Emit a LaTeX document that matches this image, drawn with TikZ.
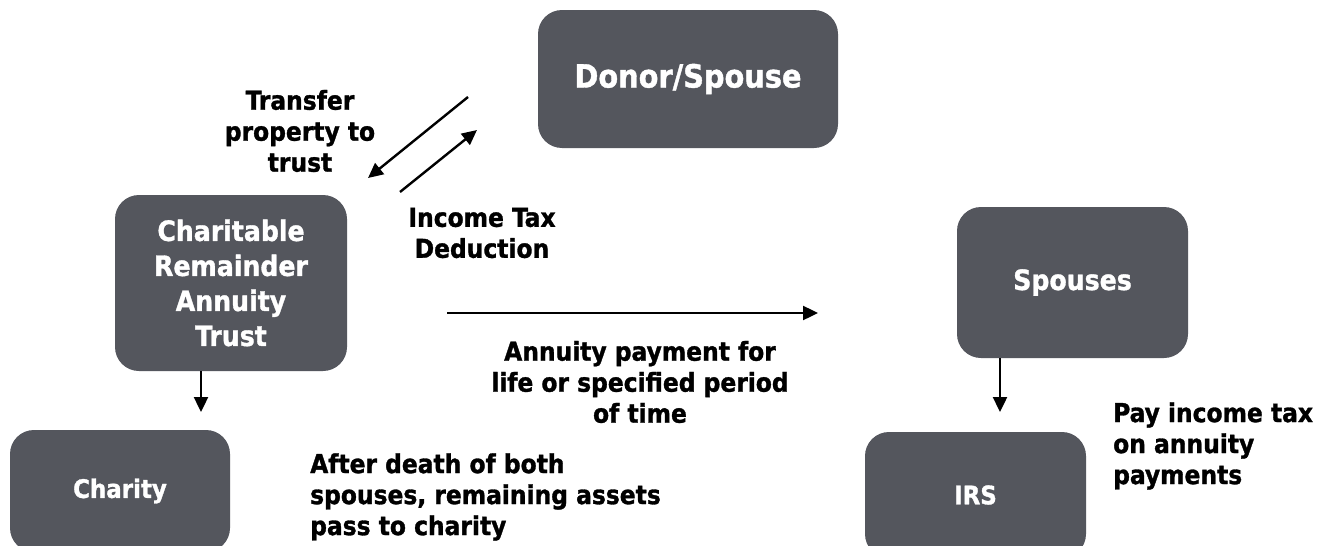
\documentclass[tikz,border=0pt]{standalone}
\usepackage{fontspec}
\setmainfont{DejaVu Sans Condensed}[BoldFeatures={FakeBold=1.2}]
\usetikzlibrary{arrows.meta}
\definecolor{boxgray}{RGB}{84,86,93}
\begin{document}
\begin{tikzpicture}[x=1pt,y=-1pt,
  box/.style={fill=boxgray, rounded corners=24pt, text=white, align=center, inner sep=0pt},
  lbl/.style={align=center, inner sep=0pt, font=\bfseries\fontsize{26}{31}\selectfont},
  arr/.style={line width=2.4pt, -{Triangle[length=15pt,width=14pt]}}]
\useasboundingbox (0,0) rectangle (1328,546);
\clip (0,0) rectangle (1328,546);
\fill[white] (0,0) rectangle (1328,546);
% boxes
\node[box, minimum width=300pt, minimum height=138pt, font=\bfseries\fontsize{32}{38}\selectfont] (donor) at (688,79) {Donor/Spouse};
\node[box, minimum width=232pt, minimum height=176pt, font=\bfseries\fontsize{28}{35}\selectfont] (crat) at (231,283) {Charitable\\Remainder\\Annuity\\Trust};
\node[box, minimum width=220pt, minimum height=122pt, font=\bfseries\fontsize{25.5}{30}\selectfont] (charity) at (120,491) {Charity};
\node[box, minimum width=231pt, minimum height=151pt, font=\bfseries\fontsize{28}{32}\selectfont] (spouses) at (1072.5,282.5) {Spouses};
\node[box, minimum width=221pt, minimum height=126pt, font=\bfseries\fontsize{25.5}{30}\selectfont] (irs) at (975.5,495) {IRS};
% labels
\node[lbl] (ltransfer) at (300,131) {Transfer\\property to\\trust};
\node[lbl] (lincome) at (482,233) {Income Tax\\Deduction};
\node[lbl] (lannuity) at (640,382) {Annuity payment for\\life or specified period\\of time};
\node[lbl, anchor=west, align=left] (ldeath) at (310,497) {After death of both\\spouses, remaining assets\\pass to charity};
\node[lbl, anchor=west, align=left] (ltax) at (1113,446) {Pay income tax\\on annuity\\payments};
% connector end points
\coordinate (t1) at (468,97);
\coordinate (t2) at (368,178);
\coordinate (i1) at (400,192);
\coordinate (i2) at (477,130);
\coordinate (a1) at (447,313);
\coordinate (a2) at (818,313);
\coordinate (c1) at (201,412);
\coordinate (s1) at (1000,412);
% connectors
\draw[arr] (t1) -- (t2);
\draw[arr] (i1) -- (i2);
\draw[arr] (a1) -- (a2);
\draw[arr] (crat.south -| c1) -- (c1);
\draw[arr] (spouses.south -| s1) -- (s1);
\end{tikzpicture}
\end{document}
